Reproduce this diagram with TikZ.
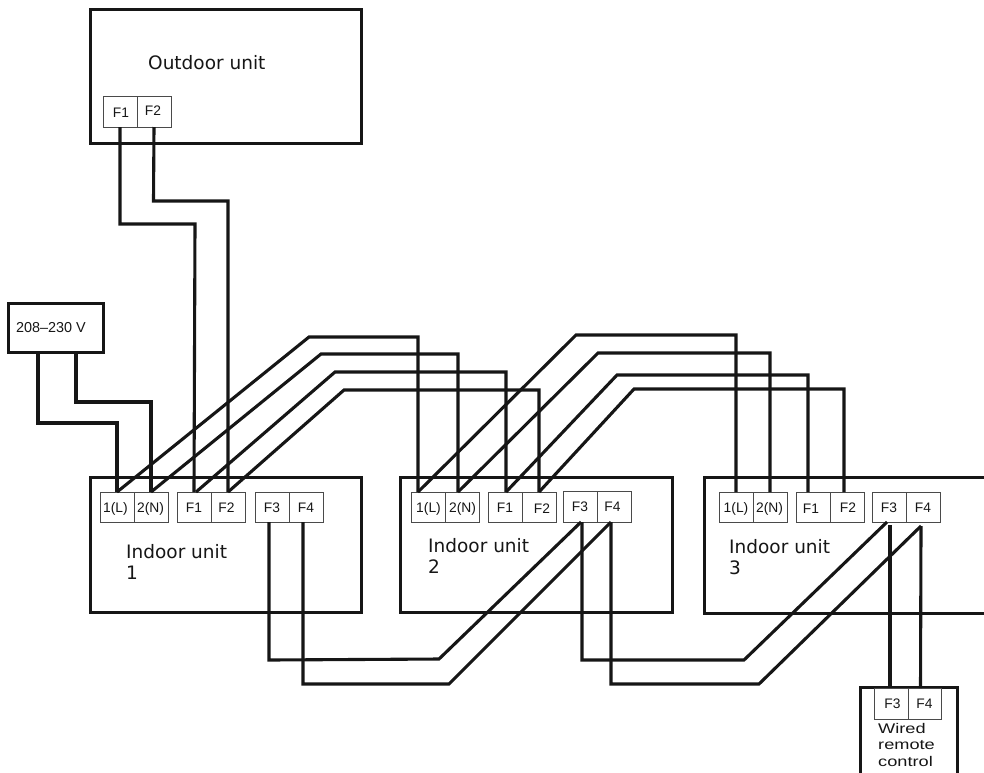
\documentclass[tikz,border=0pt]{standalone}
\usepackage{fontspec}
\setmainfont{Liberation Sans}
\newfontfamily\vfont{DejaVu Sans}
\newfontfamily\widefont[FakeStretch=1.3]{Liberation Sans}
\definecolor{ink}{HTML}{161616}
\definecolor{thin}{HTML}{4A4A4A}
\tikzset{
  unitbox/.style={draw=ink,line width=3pt,anchor=north west,inner sep=0pt,outer sep=0pt,line join=miter},
  term/.style={draw=thin,line width=0.9pt,fill=white,anchor=north west,inner sep=0pt,outer sep=0pt,
    text=ink,text height=10pt,text depth=0pt,align=center,font=\fontsize{13.8}{16}\selectfont},
  wire/.style={draw=ink,line width=3.1pt,line join=miter},
  bigtext/.style={anchor=north west,inner sep=0pt,align=left,text=ink,font=\vfont\fontsize{18.5}{21.5}\selectfont},
  smalltext/.style={anchor=north west,inner sep=0pt,align=left,text=ink,font=\fontsize{14.4}{16}\selectfont},
  widetext/.style={anchor=north west,inner sep=0pt,align=left,text=ink,font=\widefont\fontsize{14}{16.5}\selectfont}
}
\newcommand{\tm}[6]{\node[term,minimum width=#4pt,minimum height=#5pt] (#1) at (#2,#3) {#6};}
\begin{document}
\begin{tikzpicture}[x=1pt,y=-1pt]
\useasboundingbox (0,0) rectangle (984,772);
\clip (0,0) rectangle (984,772);
% units
\node[unitbox,minimum width=271pt,minimum height=134pt] (outdoor) at (90,9) {};
\node[unitbox,minimum width=95pt,minimum height=49pt] (power) at (8,303) {};
\node[unitbox,minimum width=271pt,minimum height=135pt] (in1) at (90,477) {};
\node[unitbox,minimum width=272pt,minimum height=135pt] (in2) at (400,477) {};
\node[unitbox,minimum width=300pt,minimum height=136pt] (in3) at (704,477) {};
\node[unitbox,minimum width=97pt,minimum height=110pt] (remote) at (860,687) {};
% labels
\node[bigtext] (outlabel) at (148,55) {Outdoor unit};
\node[bigtext] (in1label) at (126,544) {Indoor unit\\1};
\node[bigtext] (in2label) at (428,538) {Indoor unit\\2};
\node[bigtext] (in3label) at (729,539) {Indoor unit\\3};
\node[smalltext] (powlabel) at (16,322) {208--230 V};
\node[widetext] (remlabel) at (878,723) {Wired\\remote\\control};
% terminals
\tm{oF1}{103}{96}{34}{31}{\raisebox{-1pt}{\hspace*{2pt}F1}}
\tm{oF2}{137}{96}{34}{31}{\raisebox{1pt}{\hspace*{-2pt}F2}}
\tm{aL}{100}{492}{34}{30}{\hspace*{-3pt}1(L)}
\tm{aN}{134}{492}{34}{30}{\hspace*{-1pt}2(N)}
\tm{aF1}{177}{492}{34}{30}{F1}
\tm{aF2}{211}{492}{34}{30}{\hspace*{-3pt}F2}
\tm{aF3}{255}{492}{34}{30}{F3}
\tm{aF4}{289}{492}{34}{30}{F4}
\tm{bL}{411}{492}{34}{30}{\hspace*{1pt}1(L)}
\tm{bN}{445}{492}{34}{30}{\hspace*{1pt}2(N)}
\tm{bF1}{488}{492}{34}{30}{F1}
\tm{bF2}{522}{492}{34}{30}{\raisebox{-1pt}{\hspace*{6pt}F2}}
\tm{bF3}{563}{491}{34}{31}{F3}
\tm{bF4}{597}{491}{34}{31}{\hspace*{-3pt}F4}
\tm{cL}{719}{492}{34}{30}{1(L)}
\tm{cN}{753}{492}{34}{30}{\hspace*{-1pt}2(N)}
\tm{cF1}{796}{492}{34}{30}{\raisebox{-1pt}{\hspace*{-4pt}F1}}
\tm{cF2}{830}{492}{34}{30}{\hspace*{2pt}F2}
\tm{cF3}{872}{492}{34}{30}{F3}
\tm{cF4}{906}{492}{34}{30}{F4}
\tm{rF3}{874}{688}{34}{31}{\hspace*{3pt}F3}
\tm{rF4}{908}{688}{33}{31}{F4}
% outdoor to indoor 1
\draw[wire] (oF1.south) -- (120,224) -- (195,224) -- (aF1.north);
\draw[wire] (oF2.south) -- (153.5,201) -- (228,201) -- (aF2.north);
% power
\draw[wire] ([xshift=-17.5]power.south) -- (38,423) -- (117,423) -- (aL.north);
\draw[wire] ([xshift=20.5]power.south) -- (76,402) -- (151,402) -- (aN.north);
% indoor 1 to 2
\draw[wire] (aL.north) -- (309,337) -- (418,337) -- ([xshift=-10]bL.north);
\draw[wire] (aN.north) -- (321,354) -- (458,354) -- ([xshift=-4]bN.north);
\draw[wire] ([xshift=2]aF1.north) -- (335,372) -- (506,372) -- ([xshift=1]bF1.north);
\draw[wire] (aF2.north) -- (344,390) -- (539,390) -- (bF2.north);
% indoor 2 to 3
\draw[wire] ([xshift=-10]bL.north) -- (576,335) -- (736,335) -- (cL.north);
\draw[wire] ([xshift=-4]bN.north) -- (598,353) -- (770,353) -- (cN.north);
\draw[wire] ([xshift=1]bF1.north) -- (617,375) -- (808,375) -- ([xshift=-5]cF1.north);
\draw[wire] (bF2.north) -- (634,389) -- (844,389) -- ([xshift=-3]cF2.north);
% F3/F4 chain
\draw[wire] ([xshift=-3]aF3.south) -- (269,660) -- (439,659) -- ([xshift=1]bF3.south);
\draw[wire] ([xshift=-3]aF4.south) -- (303,684) -- (449,684) -- ([xshift=-3]bF4.south);
\draw[wire] ([xshift=2]bF3.south) -- (582,660) -- (744,660) -- ([xshift=-2]cF3.south);
\draw[wire] ([xshift=-3]bF4.south) -- (611,684) -- (759,684) -- ([xshift=-2,yshift=-4]cF4.south);
% to remote
\draw[wire] ([xshift=1,yshift=-3]cF3.south) -- ([xshift=-1]rF3.north);
\draw[wire] ([xshift=-2,yshift=-4]cF4.south) -- ([xshift=-4]rF4.north);
\end{tikzpicture}
\end{document}
